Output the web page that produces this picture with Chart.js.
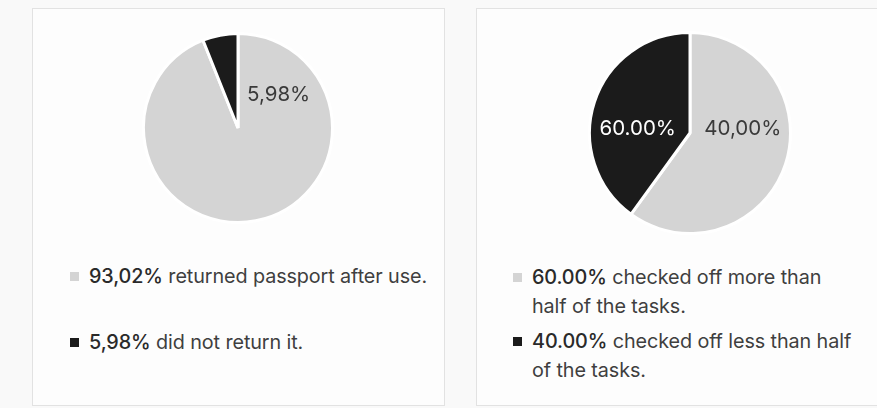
<!DOCTYPE html>
<html>
<head>
<meta charset="utf-8">
<script src="https://cdn.jsdelivr.net/npm/chart.js@4"></script>
<style>
  html, body { margin: 0; padding: 0; }
  body { width: 877px; height: 408px; background: #f9f9f9; position: relative; overflow: hidden;
         font-family: "Inter", "Open Sans", sans-serif; color: #3f3f3f; }
  .panel { position: absolute; background: #fdfdfd; border: 1.5px solid #e2e2e2; box-sizing: border-box; }
  #p1 { left: 32px; top: 8px; width: 413px; height: 398px; }
  #p2 { left: 476px; top: 8px; width: 420px; height: 398px; }
  .cw { position: absolute; }
  #c1w { left: 142px; top: 32px; width: 192px; height: 192px; }
  #c2w { left: 588px; top: 31px; width: 204px; height: 204px; }
  .legend { position: absolute; font-size: 19.8px; line-height: 29px; letter-spacing: -0.1px; }
  .item { position: relative; padding-left: 19px; white-space: pre; }
  .sw { position: absolute; left: 0; width: 9px; height: 9px; }
  .item b { font-weight: 500; color: #2a2a2a; }
  #l1 { left: 70px; top: 0; }
  #l2 { left: 513px; top: 0; }
</style>
</head>
<body>
<div class="panel" id="p1"></div>
<div class="panel" id="p2"></div>
<div class="cw" id="c1w"><canvas id="c1"></canvas></div>
<div class="cw" id="c2w"><canvas id="c2"></canvas></div>
<div class="legend" id="l1"></div>
<div class="legend" id="l2"></div>
<script>
// ---- data ----
const leftCategories = ['returned passport after use.', 'did not return it.'];
const leftValues = [93.02, 5.98];
const leftValueText = ['93,02%', '5,98%'];
const leftSliceText = ['5,98%', ''];

const rightCategories = ['checked off more than\nhalf of the tasks.', 'checked off less than half\nof the tasks.'];
const rightValues = [60.00, 40.00];
const rightValueText = ['60.00%', '40.00%'];
const rightSliceText = ['40,00%', '60.00%'];

const sliceColors = ['#d4d4d4', '#1b1b1b'];

// label plugin: draws text relative to the pie centre, offsets in fractions of radius
const sliceLabelPlugin = {
  id: 'sliceLabels',
  afterDatasetsDraw(chart, args, opts) {
    const ctx = chart.ctx;
    const meta = chart.getDatasetMeta(0);
    meta.data.forEach((arc, i) => {
      const txt = opts.texts[i];
      if (!txt) return;
      const r = arc.outerRadius;
      const off = opts.offsets[i];
      ctx.save();
      ctx.font = opts.font;
      ctx.fillStyle = opts.colors[i];
      ctx.textAlign = 'center';
      ctx.textBaseline = 'middle';
      ctx.fillText(txt, arc.x + off[0] * r, arc.y + off[1] * r);
      ctx.restore();
    });
  }
};

function makePie(id, labels, values, texts, offsets, colors) {
  return new Chart(document.getElementById(id), {
    type: 'pie',
    data: {
      labels: labels,
      datasets: [{
        data: values,
        backgroundColor: sliceColors,
        borderColor: '#ffffff',
        borderWidth: 3,
        hoverOffset: 0
      }]
    },
    options: {
      responsive: true,
      maintainAspectRatio: false,
      animation: false,
      layout: { padding: 0 },
      plugins: {
        legend: { display: false },
        tooltip: { enabled: false },
        sliceLabels: {
          texts: texts,
          offsets: offsets,
          colors: colors,
          font: '400 20.5px Inter, "Open Sans", sans-serif'
        }
      }
    },
    plugins: [sliceLabelPlugin]
  });
}

const ch1 = makePie('c1', leftCategories, leftValues, leftSliceText,
  [[0.43, -0.355], [0, 0]], ['#3a3a3a', '#ffffff']);
const ch2 = makePie('c2', rightCategories, rightValues, rightSliceText,
  [[0.525, -0.045], [-0.52, -0.045]], ['#3a3a3a', '#ffffff']);

function buildLegend(el, chart, valueText, tops) {
  const ds = chart.data.datasets[0];
  chart.data.labels.forEach((lab, i) => {
    const it = document.createElement('div');
    it.className = 'item';
    it.style.position = 'absolute';
    it.style.top = tops[i] + 'px';
    const sw = document.createElement('span');
    sw.className = 'sw';
    sw.style.background = ds.backgroundColor[i];
    sw.style.top = '10px';
    it.appendChild(sw);
    const b = document.createElement('b');
    b.textContent = valueText[i];
    it.appendChild(b);
    it.appendChild(document.createTextNode(' ' + lab));
    el.appendChild(it);
  });
}
buildLegend(document.getElementById('l1'), ch1, leftValueText, [262, 328]);
buildLegend(document.getElementById('l2'), ch2, rightValueText, [263, 327]);
</script>
</body>
</html>
